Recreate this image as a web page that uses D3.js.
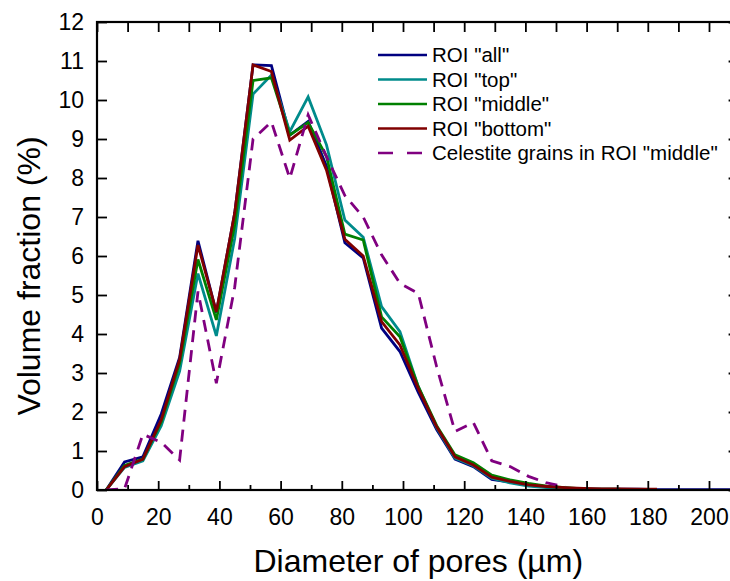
<!DOCTYPE html>
<html lang="en">
<head>
    <meta charset="UTF-8">
    <title>Volume fraction vs pore diameter</title>
    <script src="https://d3js.org/d3.v7.min.js"></script>
    <style>
        html, body { margin: 0; padding: 0; background: #fff; }
        svg { display: block; font-family: "Liberation Sans", Arial, sans-serif; }
    </style>
</head>
<body>
    <svg id="chart"></svg>

    <script>
        // pore diameter bins (µm)
        var diameters = [3, 9, 15, 21, 27, 33, 39, 45, 51, 57, 63, 69, 75, 81, 87, 93, 99, 105, 111,
            117, 123, 129, 135, 141, 147, 153, 159, 165, 171, 177, 183, 189, 195, 201, 207, 213];

        var roiAll = [0, 0.72, 0.85, 1.95, 3.4, 6.39, 4.55, 7.1, 10.9, 10.88, 9.1, 9.45, 8.3, 6.34, 5.95,
            4.15, 3.55, 2.5, 1.55, 0.79, 0.6, 0.27, 0.2, 0.12, 0.08, 0.05, 0.03, 0.02, 0.02, 0.02, 0.01,
            0.01, 0.01, 0.01, 0.01, 0.01];
        var roiTop = [0, 0.58, 0.75, 1.65, 3.05, 5.55, 3.95, 6.45, 10.15, 10.64, 9.19, 10.08, 8.85, 6.92,
            6.48, 4.7, 4.06, 2.65, 1.6, 0.82, 0.62, 0.3, 0.18, 0.1, 0.06, 0.04, 0.02];
        var roiMiddle = [0, 0.63, 0.79, 1.75, 3.25, 5.91, 4.36, 6.8, 10.5, 10.57, 9.1, 9.42, 8.55, 6.56,
            6.41, 4.44, 3.93, 2.65, 1.65, 0.9, 0.7, 0.38, 0.26, 0.17, 0.1, 0.06, 0.03, 0.02, 0.02];
        var roiBottom = [0, 0.6, 0.79, 1.8, 3.35, 6.28, 4.57, 7.1, 10.9, 10.73, 8.97, 9.33, 8.2, 6.43, 6.0,
            4.32, 3.72, 2.6, 1.62, 0.85, 0.64, 0.33, 0.22, 0.13, 0.09, 0.06, 0.04, 0.03, 0.03, 0.02, 0.02];
        var celestite = [0, 0.03, 1.43, 1.22, 0.77, 5.09, 2.74, 5.2, 9.0, 9.44, 7.99, 9.62, 8.55, 7.55, 7.0,
            6.03, 5.3, 5.04, 3.16, 1.5, 1.73, 0.75, 0.6, 0.35, 0.18, 0.08];

        var seriesNames = ['ROI "all"', 'ROI "top"', 'ROI "middle"', 'ROI "bottom"', 'Celestite grains in ROI "middle"'];
        var seriesColors = ["#000080", "#008B8B", "#008000", "#800000", "#800080"];
        var seriesValues = [roiAll, roiTop, roiMiddle, roiBottom, celestite];

        var xTicks = [0, 20, 40, 60, 80, 100, 120, 140, 160, 180, 200];
        var xMinorTicks = [10, 30, 50, 70, 90, 110, 130, 150, 170, 190, 210];
        var yTicks = [0, 1, 2, 3, 4, 5, 6, 7, 8, 9, 10, 11, 12];

        const W = 730, H = 581;
        const margin = { top: 22, left: 97, bottom: 91 };
        const plotW = 642.6;
        const plotH = H - margin.top - margin.bottom;

        const svg = d3.select("#chart").attr("width", W).attr("height", H);

        svg.append("defs").append("clipPath").attr("id", "plotclip")
            .append("rect").attr("x", 0).attr("y", -5).attr("width", plotW).attr("height", plotH + 5);

        const g = svg.append("g").attr("transform", `translate(${margin.left},${margin.top})`);

        const x = d3.scaleLinear().domain([0, 210]).range([0, plotW]);
        const y = d3.scaleLinear().domain([0, 12]).range([plotH, 0]);

        // series lines
        const line = d3.line().x(d => x(d[0])).y(d => y(d[1]));
        const lines = g.append("g").attr("clip-path", "url(#plotclip)");
        seriesValues.forEach(function (vals, i) {
            lines.append("path")
                .datum(vals.map((v, j) => [diameters[j], v]))
                .attr("fill", "none")
                .attr("stroke", seriesColors[i])
                .attr("stroke-width", 2.8)
                .attr("stroke-dasharray", i === 4 ? "12,8" : null)
                .attr("d", line);
        });

        // axes
        function styleAxis(sel) {
            sel.select(".domain").remove();
            sel.selectAll(".tick line").attr("stroke", "#000").attr("stroke-width", 1.8);
            sel.selectAll("text").attr("fill", "#000").style("font-size", "23px")
                .style("font-family", '"Liberation Sans", Arial, sans-serif');
        }

        g.append("g").attr("transform", `translate(0,${plotH})`)
            .call(d3.axisBottom(x).tickValues(xTicks).tickSize(-9).tickPadding(19).tickFormat(d3.format("d")))
            .call(styleAxis);
        g.append("g").attr("transform", `translate(0,${plotH})`)
            .call(d3.axisBottom(x).tickValues(xMinorTicks).tickSize(-5).tickFormat(""))
            .call(styleAxis);
        g.append("g")
            .call(d3.axisTop(x).tickValues(xTicks.concat(xMinorTicks)).tickSize(-10).tickFormat(""))
            .call(styleAxis);
        g.append("g")
            .call(d3.axisLeft(y).tickValues(yTicks).tickSize(-10).tickPadding(13).tickFormat(d3.format("d")))
            .call(styleAxis);
        g.append("g").attr("transform", `translate(${plotW},0)`)
            .call(d3.axisRight(y).tickValues(yTicks).tickSize(-11).tickFormat(""))
            .call(styleAxis);

        g.append("rect")
            .attr("x", 0).attr("y", 0).attr("width", plotW).attr("height", plotH)
            .attr("fill", "none").attr("stroke", "#000").attr("stroke-width", 2.2);

        // axis titles
        svg.append("text")
            .attr("x", margin.left + plotW / 2).attr("y", 572)
            .attr("text-anchor", "middle").style("font-size", "32px")
            .text("Diameter of pores (µm)");
        svg.append("text")
            .attr("transform", "translate(40,276) rotate(-90)")
            .attr("text-anchor", "middle").style("font-size", "32px")
            .text("Volume fraction (%)");

        // legend
        const legend = svg.append("g");
        seriesNames.forEach(function (name, i) {
            const ly = 55 + i * 24.5;
            legend.append("line")
                .attr("x1", 378).attr("x2", 427).attr("y1", ly).attr("y2", ly)
                .attr("stroke", seriesColors[i]).attr("stroke-width", 2.6)
                .attr("stroke-dasharray", i === 4 ? "15,14" : null);
            legend.append("text")
                .attr("x", 432).attr("y", ly).attr("dy", "0.35em")
                .style("font-size", "20.5px")
                .text(name);
        });
    </script>
</body>
</html>
